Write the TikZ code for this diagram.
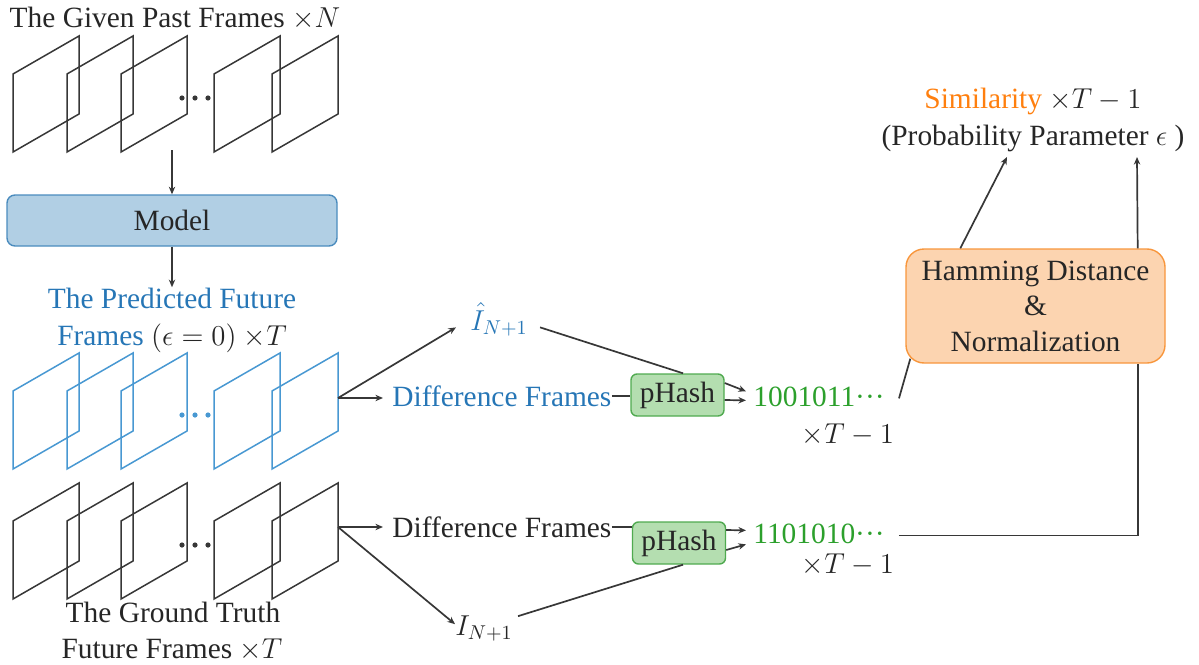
\documentclass[tikz,border=0pt]{standalone}
\usepackage{fontspec}
\setmainfont{Liberation Serif}
\usetikzlibrary{arrows.meta,calc}

\definecolor{ink}{RGB}{38,38,38}
\definecolor{linec}{RGB}{55,55,55}
\definecolor{predtext}{RGB}{38,118,182}
\definecolor{predline}{RGB}{72,152,210}
\definecolor{modelfill}{RGB}{177,207,228}
\definecolor{modeldraw}{RGB}{75,140,190}
\definecolor{hashfill}{RGB}{180,222,176}
\definecolor{hashdraw}{RGB}{80,170,80}
\definecolor{bitgreen}{RGB}{44,160,44}
\definecolor{hamfill}{RGB}{252,212,176}
\definecolor{hamdraw}{RGB}{248,150,60}
\definecolor{simorange}{RGB}{255,127,14}

% one row of stacked frames; #1 = y of the first frame's top-right corner
\newcommand\drawframerow[3]{%
  \foreach \fx in {13,67,121,214,272}{
    \draw[#2] (\fx,#1+116) -- ++(0,-78) -- ++(66,-38) -- ++(0,78) -- cycle;}
  \foreach \dx in {182,195,208}{
    \fill[#3] (\dx,#1+62) circle[radius=1.3pt];}
}
% three small centred dots after a bit string
\newcommand\bitdots{\textperiodcentered\textperiodcentered\textperiodcentered}

\begin{document}
\begin{tikzpicture}[x=0.5pt,y=-0.5pt,
  font=\fontsize{14.7}{17.75}\selectfont, color=ink,
  txt/.style={inner sep=0pt},
  arr/.style={draw=linec, line width=0.85pt, -{Stealth[length=3.8pt,width=3.2pt]}},
  conn/.style={draw=linec, line width=0.85pt},
  frameblack/.style={draw=linec, line width=0.75pt, line join=miter},
  frameblue/.style={draw=predline, line width=0.75pt, line join=miter},
  modelbox/.style={draw=modeldraw, fill=modelfill, line width=0.7pt, rounded corners=4pt,
    minimum width=165pt, minimum height=25.5pt, inner sep=0pt},
  hashbox/.style={draw=hashdraw, fill=hashfill, line width=0.7pt, rounded corners=3pt,
    minimum width=46.5pt, minimum height=21pt, inner sep=0pt},
  hambox/.style={draw=hamdraw, fill=hamfill, line width=0.7pt, rounded corners=9pt,
    minimum width=129.5pt, minimum height=57pt, inner sep=0pt, align=center}]

\useasboundingbox (0,0) rectangle (1199,664);

% frame stacks
\drawframerow{36}{frameblack}{linec}
\drawframerow{353}{frameblue}{predline}
\drawframerow{483}{frameblack}{linec}

% labels of the frame stacks
\node[txt, anchor=base] (past) at (175,27) {The Given Past Frames $\times N$};
\node[txt, anchor=base, text=predtext] (pred1) at (172,308) {The Predicted Future};
\node[txt, anchor=base] (pred2) at (172,345) {\textcolor{predtext}{Frames} $(\epsilon = 0)$ $\times T$};
\node[txt, anchor=base] (gt1) at (173,622) {The Ground Truth};
\node[txt, anchor=base] (gt2) at (172,658) {Future Frames $\times T$};

% model
\node[modelbox] (model) at (172,220.5) {Model};
\coordinate (pastbot) at (172,150);
\draw[arr] (pastbot) -- (model.north);
\draw[arr] (model.south) -- (pred1.north);

% branch points at the right of the stacks
\coordinate (br1) at (338,398);
\coordinate (br2) at (338,527);

% predicted branch
\node[txt, anchor=base west, text=predtext] (ihat) at (470,330) {$\hat{I}_{N+1}$};
\node[txt, anchor=base west, text=predtext] (d1) at (392,406) {Difference Frames};
\node[hashbox] (ph1) at (677.5,395) {pHash};
\node[txt, anchor=base west, text=bitgreen] (b1) at (753,406) {1001011\bitdots};
\node[txt, anchor=base] (t1) at (848,443) {$\times T - 1$};

\draw[arr] (br1) -- ([shift={(-7pt,-4pt)}]ihat.west);
\draw[arr, shorten >=4.5pt] (br1) -- (br1 -| d1.west);
\draw[conn] ([shift={(6pt,-4pt)}]ihat.east) -- ([xshift=2.75pt]ph1.north);
\draw[conn] (d1.east) -- (d1.east -| ph1.west);
\draw[arr] ([yshift=6pt]ph1.east) -- ([shift={(-3.5pt,2.5pt)}]b1.west);
\draw[arr] ([yshift=-2.5pt]ph1.east) -- ([shift={(-3.5pt,-2pt)}]b1.west);

% ground-truth branch
\node[txt, anchor=base west] (d2) at (392,537) {Difference Frames};
\node[txt, anchor=base west] (inode) at (455,635) {$I_{N+1}$};
\node[hashbox] (ph2) at (679,543) {pHash};
\node[txt, anchor=base west, text=bitgreen] (b2) at (753,543) {1101010\bitdots};
\node[txt, anchor=base] (t2) at (848,573) {$\times T - 1$};

\draw[arr, shorten >=4.5pt] (br2) -- (br2 -| d2.west);
\draw[arr] (br2) -- ([yshift=2pt]inode.west);
\draw[conn] (d2.east) -- (d2.east -| ph2.west);
\draw[conn] ([shift={(2.5pt,6pt)}]inode.east) -- ([xshift=2pt]ph2.south);
\draw[arr] ([yshift=6.5pt]ph2.east) -- ([shift={(-3.5pt,1.5pt)}]b2.west);
\draw[arr] ([yshift=-3.5pt]ph2.east) -- ([shift={(-3.5pt,-5.5pt)}]b2.west);

% comparison
\node[hambox] (ham) at (1035.5,306) {Hamming Distance\\\&\\Normalization};
\draw[conn] ([shift={(7pt,-1pt)}]b1.east) -- ([shift={(2.5pt,2.5pt)}]ham.south west);
\draw[conn] ([shift={(7pt,-1pt)}]b2.east) -| ([xshift=-14pt]ham.south east);

% output
\node[txt, anchor=base] (sim) at (1033,108) {\textcolor{simorange}{Similarity} $\times T - 1$};
\node[txt, anchor=base] (prob) at (1033,145) {(Probability Parameter $\epsilon$ )};
\coordinate (simA) at (1007,157);
\coordinate (simB) at (1137,157);
\draw[arr] ([xshift=27.5pt]ham.north west) -- (simA);
\draw[arr] ([xshift=-14pt]ham.north east) -- (simB);

\end{tikzpicture}
\end{document}
